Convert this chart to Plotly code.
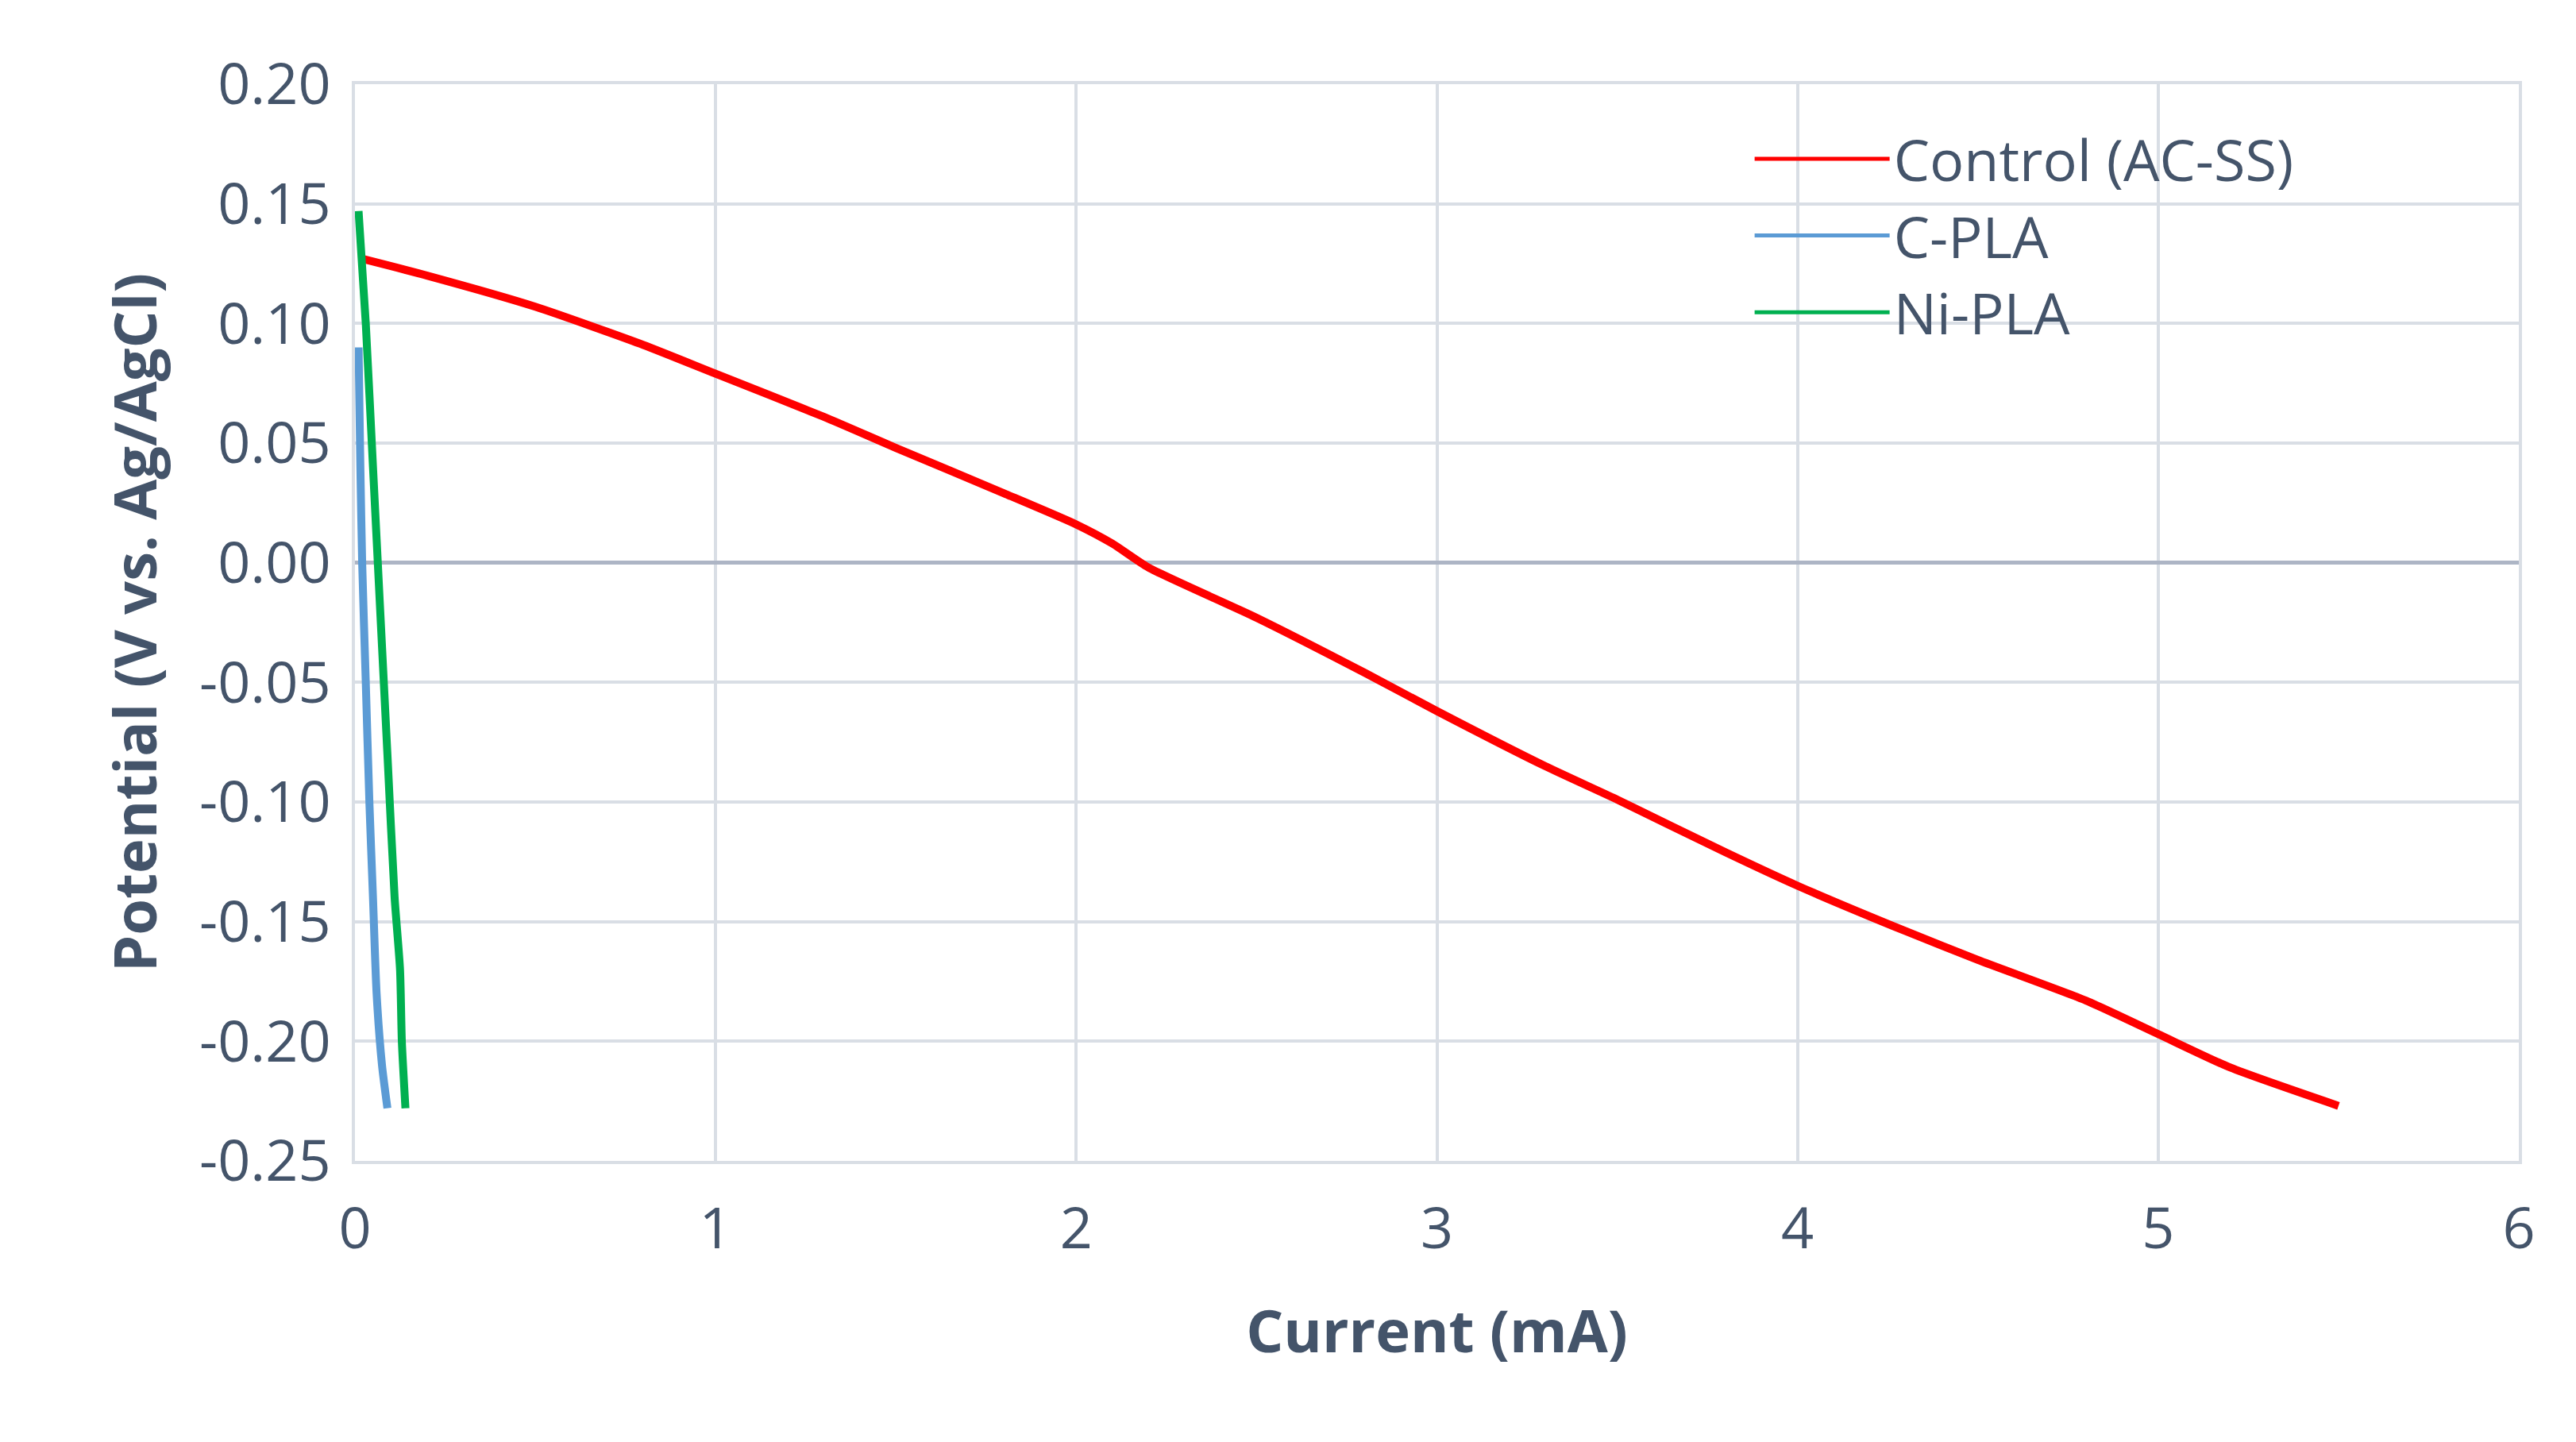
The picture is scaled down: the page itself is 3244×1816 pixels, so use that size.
import plotly.graph_objects as go

ctrl_x = [0.02, 0.2, 0.5, 0.8, 1.0, 1.3, 1.5, 1.8, 2.0, 2.1, 2.2, 2.5, 2.8, 3.0, 3.3, 3.5, 3.8, 4.0, 4.3, 4.5, 4.8, 5.0, 5.2, 5.5]
ctrl_y = [0.127, 0.120, 0.107, 0.091, 0.079, 0.061, 0.048, 0.029, 0.016, 0.008, -0.002, -0.023, -0.046, -0.062, -0.085, -0.099, -0.121, -0.135, -0.154, -0.166, -0.183, -0.197, -0.211, -0.227]
cpla_x = [0.01, 0.015, 0.02, 0.03, 0.04, 0.05, 0.06, 0.075, 0.09]
cpla_y = [0.090, 0.040, 0.000, -0.050, -0.100, -0.140, -0.180, -0.210, -0.228]
nipla_x = [0.01, 0.03, 0.05, 0.07, 0.09, 0.11, 0.125, 0.13, 0.14]
nipla_y = [0.147, 0.100, 0.040, -0.020, -0.080, -0.140, -0.170, -0.200, -0.228]
y_ticks = [-0.25, -0.20, -0.15, -0.10, -0.05, 0.0, 0.05, 0.10, 0.15, 0.20]
y_labels = ["-0.25", "-0.20", "-0.15", "-0.10", "-0.05", "0.00", "0.05", "0.10", "0.15", "0.20"]

fig = go.Figure()
fig.add_trace(go.Scatter(x=ctrl_x, y=ctrl_y, mode="lines", name="Control (AC-SS)", line=dict(color="#FF0000", width=10, shape="spline", smoothing=0.6)))
fig.add_trace(go.Scatter(x=cpla_x, y=cpla_y, mode="lines", name="C-PLA", line=dict(color="#5B9BD5", width=10, shape="spline", smoothing=0.6)))
fig.add_trace(go.Scatter(x=nipla_x, y=nipla_y, mode="lines", name="Ni-PLA", line=dict(color="#00B050", width=10, shape="spline", smoothing=0.6)))

fc = "#44546A"
fig.update_layout(
    width=3244, height=1816, plot_bgcolor="white", paper_bgcolor="white",
    margin=dict(l=439, r=80, t=98, b=362),
    font=dict(family="Open Sans", size=72, color=fc),
    legend=dict(x=0.645, y=0.97, xanchor="left", yanchor="top", font=dict(size=72, color=fc), bgcolor="rgba(0,0,0,0)", itemwidth=170, tracegroupgap=0, entrywidth=0),
    xaxis=dict(range=[0, 6], dtick=1, showgrid=True, gridcolor="#D9DEE5", gridwidth=4, showline=True, linecolor="#D9DEE5", linewidth=4, mirror=True, zeroline=True, zerolinecolor="#ADB5C5", zerolinewidth=5,
               title=dict(text="<b>Current (mA)</b>", font=dict(size=74, color=fc), standoff=60), ticks="outside", ticklen=20, tickcolor="white", tickfont=dict(size=72, color=fc)),
    yaxis=dict(range=[-0.25, 0.20], tickvals=y_ticks, ticktext=y_labels, showgrid=True, gridcolor="#D9DEE5", gridwidth=4, showline=True, linecolor="#D9DEE5", linewidth=4, mirror=True, zeroline=True, zerolinecolor="#ADB5C5", zerolinewidth=5,
               title=dict(text="<b>Potential (V vs. Ag/AgCl)</b>", font=dict(size=74, color=fc), standoff=30), ticks="outside", ticklen=12, tickcolor="white", tickfont=dict(size=72, color=fc)),
)
fig.update_layout(legend=dict(itemsizing="constant"))
fig.write_html("out.html")
